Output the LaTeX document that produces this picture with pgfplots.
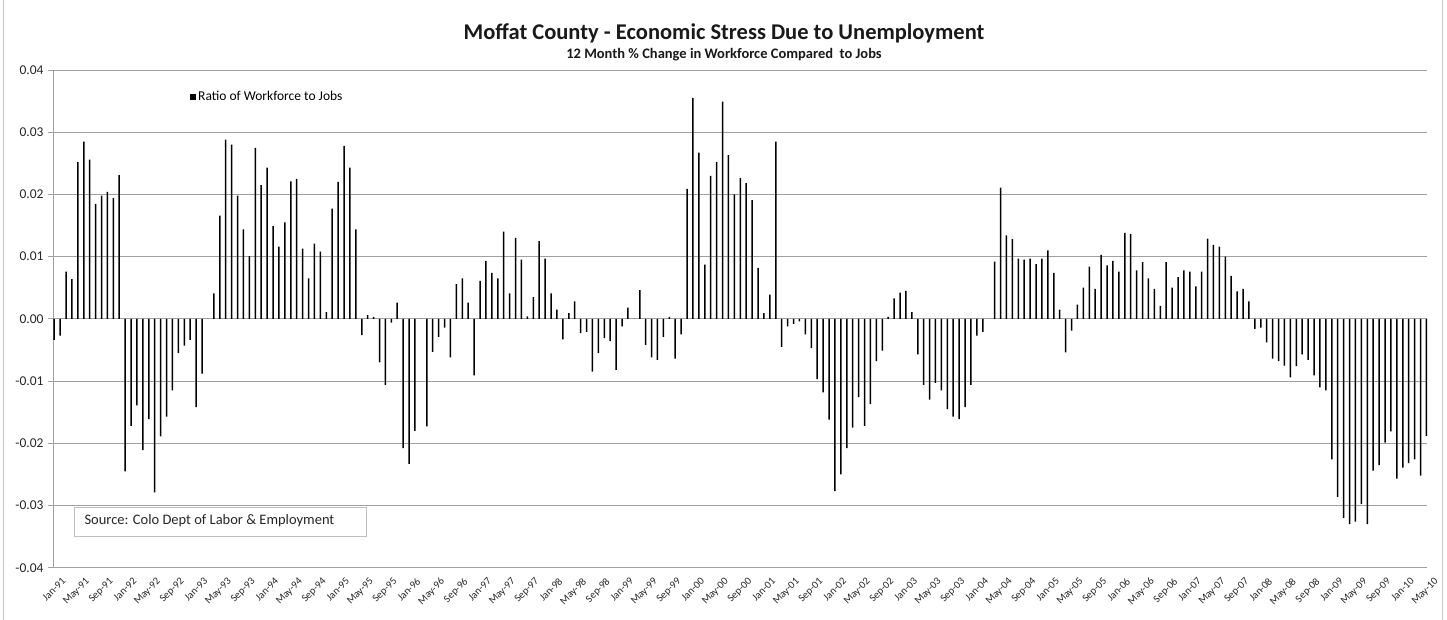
\documentclass[border=0pt]{standalone}
\usepackage{pgfplots}
\pgfplotsset{compat=1.18}
\usepackage{fontspec}
\setmainfont{Carlito}
\definecolor{gridgray}{RGB}{160,160,160}
\begin{document}
\begin{tikzpicture}
\path[use as bounding box] (0,0) rectangle (1447pt,620pt);
\draw[gray!45, line width=0.8pt] (3pt,0) -- (3pt,620pt);
\draw[gray!45, line width=0.8pt] (1442pt,0) -- (1442pt,620pt);
\begin{axis}[
  at={(53pt,52.3pt)}, anchor=south west,
  scale only axis, width=1374pt, height=497.7pt,
  xmin=-0.2, xmax=232.1, ymin=-0.04, ymax=0.04,
  scaled y ticks=false,
  axis lines*=left,
  axis line style={draw=gridgray, line width=0.8pt},
  x axis line style={draw=none},
  ymajorgrids, grid style={draw=gridgray, line width=0.8pt},
  ytick={-0.04,-0.03,-0.02,-0.01,0,0.01,0.02,0.03,0.04},
  yticklabels={-0.04,-0.03,-0.02,-0.01,0.00,0.01,0.02,0.03,0.04},
  ytick style={draw=gridgray, line width=0.8pt},
  tick align=outside, major tick length=5pt,
  yticklabel style={font=\fontsize{13.5}{15}\selectfont, text=black!85, xshift=-1pt},
  xtick={0,4,...,232},
  xtick style={draw=none},
  xticklabels={Jan-91,May-91,Sep-91,Jan-92,May-92,Sep-92,Jan-93,May-93,Sep-93,Jan-94,May-94,Sep-94,Jan-95,May-95,Sep-95,Jan-96,May-96,Sep-96,Jan-97,May-97,Sep-97,Jan-98,May-98,Sep-98,Jan-99,May-99,Sep-99,Jan-00,May-00,Sep-00,Jan-01,May-01,Sep-01,Jan-02,May-02,Sep-02,Jan-03,May-03,Sep-03,Jan-04,May-04,Sep-04,Jan-05,May-05,Sep-05,Jan-06,May-06,Sep-06,Jan-07,May-07,Sep-07,Jan-08,May-08,Sep-08,Jan-09,May-09,Sep-09,Jan-10,May-10},
  xticklabel style={rotate=45, anchor=north east, font=\fontsize{10.5}{12}\selectfont, text=black!85, xshift=3pt, yshift=-7pt, inner sep=1pt},
  legend style={at={(0.0997,0.9457)}, anchor=west, draw=none, fill=none, font=\fontsize{13.5}{15}\selectfont, inner sep=0pt},
  legend cell align=left,
  legend image code/.code={\fill[black] (0pt,-3pt) rectangle (6pt,3pt);},
]
\addplot[ybar, bar width=1.5pt, fill=black, draw=none] coordinates {
(0,-0.0034)(1,-0.0027)(2,0.0076)(3,0.0064)(4,0.0252)(5,0.0285)(6,0.0256)(7,0.0185)(8,0.0198)(9,0.0204)
(10,0.0194)(11,0.0231)(12,-0.0245)(13,-0.0172)(14,-0.0139)(15,-0.0211)(16,-0.0161)(17,-0.0279)(18,-0.0189)(19,-0.0157)
(20,-0.0115)(21,-0.0055)(22,-0.0043)(23,-0.0034)(24,-0.0142)(25,-0.0088)(26,0.0000)(27,0.0041)(28,0.0166)(29,0.0288)
(30,0.0280)(31,0.0198)(32,0.0144)(33,0.0101)(34,0.0275)(35,0.0215)(36,0.0243)(37,0.0149)(38,0.0116)(39,0.0155)
(40,0.0221)(41,0.0225)(42,0.0113)(43,0.0065)(44,0.0121)(45,0.0108)(46,0.0011)(47,0.0177)(48,0.0220)(49,0.0278)
(50,0.0243)(51,0.0144)(52,-0.0026)(53,0.0006)(54,0.0003)(55,-0.0070)(56,-0.0106)(57,-0.0006)(58,0.0026)(59,-0.0208)
(60,-0.0233)(61,-0.0180)(62,0.0000)(63,-0.0173)(64,-0.0053)(65,-0.0029)(66,-0.0014)(67,-0.0062)(68,0.0056)(69,0.0065)
(70,0.0026)(71,-0.0091)(72,0.0061)(73,0.0093)(74,0.0074)(75,0.0065)(76,0.0140)(77,0.0041)(78,0.0130)(79,0.0095)
(80,0.0004)(81,0.0035)(82,0.0125)(83,0.0097)(84,0.0041)(85,0.0015)(86,-0.0033)(87,0.0009)(88,0.0028)(89,-0.0023)
(90,-0.0021)(91,-0.0085)(92,-0.0055)(93,-0.0031)(94,-0.0036)(95,-0.0082)(96,-0.0012)(97,0.0018)(98,0.0000)(99,0.0046)
(100,-0.0042)(101,-0.0062)(102,-0.0066)(103,-0.0029)(104,0.0003)(105,-0.0064)(106,-0.0025)(107,0.0209)(108,0.0355)(109,0.0267)
(110,0.0087)(111,0.0230)(112,0.0252)(113,0.0349)(114,0.0263)(115,0.0200)(116,0.0226)(117,0.0218)(118,0.0191)(119,0.0082)
(120,0.0009)(121,0.0039)(122,0.0285)(123,-0.0045)(124,-0.0012)(125,-0.0008)(126,-0.0004)(127,-0.0025)(128,-0.0047)(129,-0.0097)
(130,-0.0118)(131,-0.0162)(132,-0.0277)(133,-0.0250)(134,-0.0208)(135,-0.0175)(136,-0.0126)(137,-0.0172)(138,-0.0137)(139,-0.0068)
(140,-0.0051)(141,0.0003)(142,0.0033)(143,0.0042)(144,0.0045)(145,0.0011)(146,-0.0057)(147,-0.0106)(148,-0.0130)(149,-0.0103)
(150,-0.0115)(151,-0.0145)(152,-0.0157)(153,-0.0161)(154,-0.0142)(155,-0.0106)(156,-0.0027)(157,-0.0021)(158,0.0000)(159,0.0092)
(160,0.0211)(161,0.0134)(162,0.0128)(163,0.0097)(164,0.0095)(165,0.0097)(166,0.0088)(167,0.0097)(168,0.0110)(169,0.0074)
(170,0.0015)(171,-0.0054)(172,-0.0019)(173,0.0023)(174,0.0050)(175,0.0084)(176,0.0048)(177,0.0103)(178,0.0086)(179,0.0093)
(180,0.0076)(181,0.0138)(182,0.0136)(183,0.0078)(184,0.0091)(185,0.0065)(186,0.0048)(187,0.0021)(188,0.0091)(189,0.0050)
(190,0.0067)(191,0.0078)(192,0.0076)(193,0.0052)(194,0.0076)(195,0.0129)(196,0.0119)(197,0.0116)(198,0.0100)(199,0.0069)
(200,0.0044)(201,0.0048)(202,0.0028)(203,-0.0016)(204,-0.0014)(205,-0.0038)(206,-0.0064)(207,-0.0068)(208,-0.0075)(209,-0.0094)
(210,-0.0076)(211,-0.0057)(212,-0.0066)(213,-0.0091)(214,-0.0110)(215,-0.0115)(216,-0.0226)(217,-0.0286)(218,-0.0320)(219,-0.0330)
(220,-0.0326)(221,-0.0298)(222,-0.0330)(223,-0.0244)(224,-0.0235)(225,-0.0199)(226,-0.0181)(227,-0.0257)(228,-0.0239)(229,-0.0232)
(230,-0.0226)(231,-0.0252)(232,-0.0188)
};
\addlegendentry{Ratio of Workforce to Jobs}
\end{axis}
\draw[gray!50, line width=0.8pt, fill=white] (74pt,84pt) rectangle (366pt,113pt);
\node[anchor=west, font=\fontsize{14.5}{16}\selectfont, text=black!85] at (81pt,99pt) {Source: Colo Dept of Labor \& Employment};
\node[font=\bfseries\fontsize{22.5}{26}\selectfont, text=black!90] at (724pt,587pt) {Moffat County - Economic Stress Due to Unemployment};
\node[font=\bfseries\fontsize{14.5}{17}\selectfont, text=black!90] at (724pt,565pt) {12 Month \% Change in Workforce Compared\ \ to Jobs};
\end{tikzpicture}
\end{document}
